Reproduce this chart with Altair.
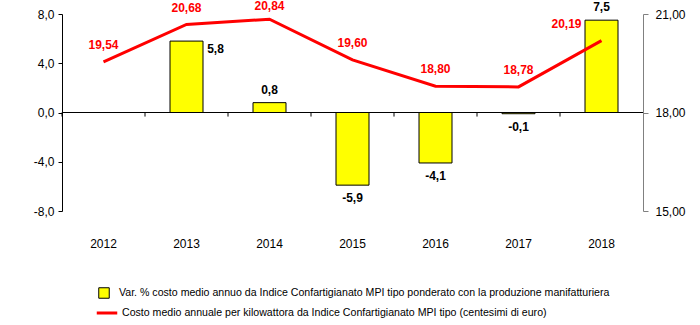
import altair as alt
import pandas as pd

years = ["2012", "2013", "2014", "2015", "2016", "2017", "2018"]
var_pct = [None, 5.8, 0.8, -5.9, -4.1, -0.1, 7.5]
costo = [19.54, 20.68, 20.84, 19.60, 18.80, 18.78, 20.19]
bar_series = "Var. % costo medio annuo da Indice Confartigianato MPI tipo ponderato con la produzione manifatturiera"
line_series = "Costo medio annuale per kilowattora da Indice Confartigianato MPI tipo (centesimi di euro)"
left_ticks = [-8, -4, 0, 4, 8]
right_ticks = [15, 18, 21]

df = pd.DataFrame({"anno": years, "var": var_pct, "costo": costo})
df["bar_s"] = bar_series
df["line_s"] = line_series

FONT = "Liberation Sans"

xenc = alt.X(
    "anno:O",
    scale=alt.Scale(paddingInner=0, paddingOuter=0),
    axis=alt.Axis(title=None, domain=False, ticks=False, labelAngle=0, labelPadding=27,
                  labelFontSize=12, labelFont=FONT, labelColor="black"),
)
xtick = alt.X("anno:O", bandPosition=0,
              scale=alt.Scale(paddingInner=0, paddingOuter=0),
              axis=alt.Axis(title=None, domain=False, ticks=False, labelAngle=0, labelPadding=27,
                            labelFontSize=12, labelFont=FONT, labelColor="black"))

yL = alt.Y(
    "var:Q",
    scale=alt.Scale(domain=[-8, 8]),
    axis=alt.Axis(values=left_ticks, title=None, grid=False,
                  labelExpr="replace(replace(format(datum.value, '.1f'), '.', ','), '\u2212', '-')",
                  domainColor="black", tickColor="black", tickSize=4, labelPadding=4,
                  labelFontSize=12, labelFont=FONT, labelColor="black"),
)

base = alt.Chart(df)

bars = base.mark_bar(size=33, stroke="black", strokeWidth=1).encode(
    x=xenc, y=yL,
    color=alt.Color("bar_s:N", scale=alt.Scale(domain=[bar_series], range=["#FFFF00"]),
                    legend=alt.Legend(title=None, orient="none", legendX=36, legendY=273,
                                      symbolType="square", symbolSize=110,
                                      symbolStrokeColor="black", symbolStrokeWidth=1,
                                      labelFontSize=10.6, labelFont=FONT, labelLimit=700,
                                      labelOffset=9, labelColor="black")),
).transform_filter("datum.var != null")

lab_calc = "replace(replace(format(datum.var, '.1f'), '.', ','), '\u2212', '-')"
bar_txt = base.transform_filter("datum.var != null").transform_calculate(lab=lab_calc)

txt_style = dict(fontSize=12, fontWeight="bold", font=FONT, color="black")
pos_lab = bar_txt.transform_filter("datum.var > 0 && datum.anno != '2013'").mark_text(
    baseline="bottom", dy=-6, **txt_style).encode(x=xenc, y=yL, text="lab:N")
neg_lab = bar_txt.transform_filter("datum.var < 0").mark_text(
    baseline="top", dy=8, **txt_style).encode(x=xenc, y=yL, text="lab:N")
side_lab = bar_txt.transform_filter("datum.anno == '2013'").mark_text(
    baseline="middle", dx=29, dy=8, **txt_style).encode(x=xenc, y=yL, text="lab:N")

zero = base.mark_rule(color="black", strokeWidth=1).encode(y=alt.datum(0, scale=alt.Scale(domain=[-8, 8])))
ticks = base.mark_rule(color="black", strokeWidth=1).encode(
    x=xtick, y=alt.datum(0), y2=alt.datum(-0.33))

left = alt.layer(bars, zero, ticks, pos_lab, neg_lab, side_lab)

yR = alt.Y(
    "costo:Q",
    scale=alt.Scale(domain=[15, 21]),
    axis=alt.Axis(orient="right", values=right_ticks, title=None, grid=False,
                  labelExpr="replace(format(datum.value, '.2f'), '.', ',')",
                  domainColor="#808080", tickColor="#808080", tickSize=5, labelPadding=7,
                  labelFontSize=12, labelFont=FONT, labelColor="black"),
)

line = base.mark_line(strokeWidth=3).encode(
    x=xenc, y=yR,
    stroke=alt.Stroke("line_s:N", scale=alt.Scale(domain=[line_series], range=["#FF0000"]),
                      legend=alt.Legend(title=None, orient="none", legendX=33, legendY=287,
                                        symbolType="stroke", symbolSize=420, symbolStrokeWidth=3,
                                        labelFontSize=10.6, labelFont=FONT, labelLimit=700,
                                        labelOffset=3, labelColor="black")),
)

line_txt = base.transform_calculate(lab="replace(format(datum.costo, '.2f'), '.', ',')")
red_style = dict(fontSize=12, fontWeight="bold", font=FONT, color="#FF0000", baseline="middle")
l_gen = line_txt.transform_filter("datum.anno != '2014' && datum.anno != '2018'").mark_text(
    dy=-17, **red_style).encode(x=xenc, y=yR, text="lab:N")
l_2014 = line_txt.transform_filter("datum.anno == '2014'").mark_text(
    dy=-13, **red_style).encode(x=xenc, y=yR, text="lab:N")
l_2018 = line_txt.transform_filter("datum.anno == '2018'").mark_text(
    dx=-35, dy=-17, **red_style).encode(x=xenc, y=yR, text="lab:N")

right = alt.layer(line, l_gen, l_2014, l_2018)

chart = alt.layer(left, right).resolve_scale(y="independent").properties(
    width=581, height=197,
    padding={"left": 62, "top": 14, "right": 57, "bottom": 114},
    autosize=alt.AutoSizeParams(type="none"),
    background="white",
).configure_view(stroke=None)

chart.save("out.html", embed_options={"renderer": "svg", "actions": False})
